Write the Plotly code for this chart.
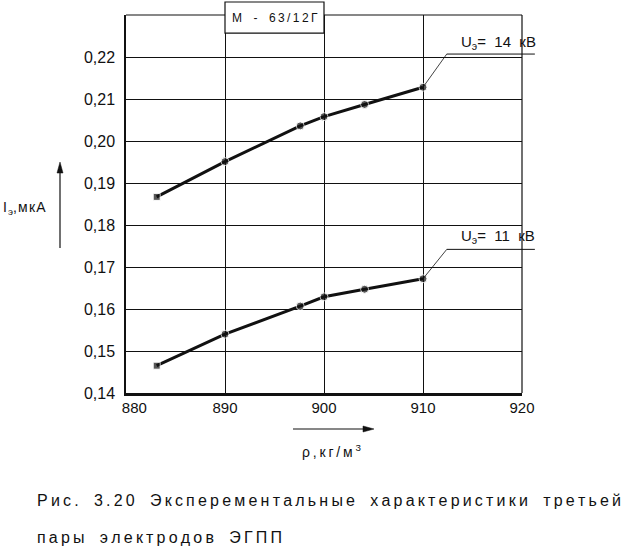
import plotly.graph_objects as go

# ---- data ----
rho_14 = [883.1, 890.0, 897.6, 900.0, 904.1, 910.0]
i_14 = [0.1867, 0.1951, 0.2036, 0.2058, 0.2087, 0.2128]
rho_11 = [883.1, 890.0, 897.6, 900.0, 904.1, 910.0]
i_11 = [0.1465, 0.1540, 0.1607, 0.1629, 0.1647, 0.1672]
x_ticks = [880, 890, 900, 910, 920]
x_ticktext = ["880", "890", "900", "910", "920"]
y_ticks = [0.14, 0.15, 0.16, 0.17, 0.18, 0.19, 0.20, 0.21, 0.22]
y_ticktext = ["0,14", "0,15", "0,16", "0,17", "0,18", "0,19", "0,20", "0,21", "0,22"]
label_14 = "U<sub>э</sub>= 14 кВ"
label_11 = "U<sub>э</sub>= 11 кВ"
box_text = "М - 63/12Г"
y_title = "I<sub>э</sub>,мкА"
x_title = "ρ,кг/м<sup>3</sup>"
caption1 = "Рис. 3.20 Эксперементальные характеристики третьей"
caption2 = "пары электродов ЭГПП"

X0, X1 = 880, 920
Y0, Y1 = 0.14, 0.23

FONT = "Liberation Sans, Arial, sans-serif"
INK = "#111111"
THIN = "\u2009"
NB = "\u00a0"

# plot-area geometry in pixels (used only to place the decorative arrows)
W, H = 634, 551
ML, MR, MT, MB = 126, 112, 15, 158
PW, PH = W - ML - MR, H - MT - MB


def sp(s, gap=THIN, word=NB + NB):
    # letter-spaced text; tags like <sub>..</sub> are kept intact
    parts = []
    i = 0
    while i < len(s):
        if s[i] == "<":
            j = s.index(">", i)
            parts.append(s[i:j + 1])
            i = j + 1
        else:
            parts.append(s[i])
            i += 1
    res = ""
    for k, p in enumerate(parts):
        if p.startswith("<"):
            res += p
        else:
            res += (word if p == " " else p)
            if k + 1 < len(parts) and not parts[k + 1].startswith("</"):
                res += gap
    return res


def px(x):
    return (x - X0) / (X1 - X0)


def py(y):
    return (y - Y0) / (Y1 - Y0)


def ppx(pix):
    return (pix - ML) / PW


def ppy(pix):
    return (H - MB - pix) / PH


fig = go.Figure()

for xs, ys in [(rho_14, i_14), (rho_11, i_11)]:
    fig.add_trace(go.Scatter(
        x=xs, y=ys, mode="lines+markers",
        line=dict(color=INK, width=3),
        marker=dict(color=INK, size=[7] + [8] * (len(xs) - 1),
                    symbol=["square"] + ["circle"] * (len(xs) - 1)),
        showlegend=False, hoverinfo="skip", cliponaxis=False,
    ))

xtt = list(x_ticktext)
xtt[0] = NB * 4 + xtt[0]

fig.update_xaxes(
    range=[X0, X1], tickvals=x_ticks, ticktext=xtt,
    showgrid=True, gridcolor=INK, gridwidth=1.2,
    showline=True, linecolor=INK, linewidth=2.5,
    zeroline=False, ticks="", ticklabelstandoff=-1,
    tickfont=dict(family=FONT, size=15, color=INK),
)
fig.update_yaxes(
    range=[Y0, Y1], tickvals=y_ticks, ticktext=y_ticktext,
    showgrid=True, gridcolor=INK, gridwidth=1.2,
    showline=True, linecolor=INK, linewidth=1.5,
    zeroline=False, ticks="", ticklabelstandoff=6,
    tickfont=dict(family=FONT, size=16, color=INK),
)

shapes = []
# top border
shapes.append(dict(type="line", xref="paper", yref="paper", x0=0, x1=1, y0=1, y1=1,
                   line=dict(color=INK, width=1.2)))
# right border
shapes.append(dict(type="line", xref="paper", yref="paper", x0=1, x1=1, y0=0, y1=1,
                   line=dict(color=INK, width=1.2)))
# box with the oil grade label (sits on top of the top border)
shapes.append(dict(type="rect", xref="paper", yref="paper",
                   x0=px(890), x1=px(900), y0=py(0.2257), y1=py(0.2331),
                   line=dict(color=INK, width=1.2), fillcolor="white", layer="above"))
# leader lines
for xs, ys, ty in [(rho_14, i_14, 0.2207), (rho_11, i_11, 0.1742)]:
    shapes.append(dict(type="line", xref="paper", yref="paper",
                       x0=px(xs[-1]), y0=py(ys[-1]), x1=px(912.4), y1=py(ty),
                       line=dict(color=INK, width=0.8)))
    shapes.append(dict(type="line", xref="paper", yref="paper",
                       x0=px(912.4), y0=py(ty), x1=px(921.3), y1=py(ty),
                       line=dict(color=INK, width=1)))

# vertical arrow next to the y title
shapes.append(dict(type="line", xref="paper", yref="paper",
                   x0=ppx(60), x1=ppx(60), y0=ppy(248), y1=ppy(170),
                   line=dict(color=INK, width=1.2)))
shapes.append(dict(type="path", xref="paper", yref="paper",
                   path=f"M {ppx(60)} {ppy(162)} L {ppx(57)} {ppy(173)} L {ppx(63)} {ppy(173)} Z",
                   fillcolor=INK, line=dict(color=INK, width=0.5)))
# horizontal arrow above the x title
shapes.append(dict(type="line", xref="paper", yref="paper",
                   x0=ppx(293), x1=ppx(365), y0=ppy(429), y1=ppy(429),
                   line=dict(color=INK, width=1.2)))
shapes.append(dict(type="path", xref="paper", yref="paper",
                   path=f"M {ppx(374)} {ppy(429)} L {ppx(363)} {ppy(426)} L {ppx(363)} {ppy(432)} Z",
                   fillcolor=INK, line=dict(color=INK, width=0.5)))
fig.update_layout(shapes=shapes)

ann = []
ann.append(dict(text=sp(box_text), xref="paper", yref="paper", x=px(895), y=py(0.2294),
                xanchor="center", yanchor="middle", showarrow=False,
                font=dict(family=FONT, size=12, color=INK)))
for lab, ty in [(label_14, 0.2235), (label_11, 0.1772)]:
    ann.append(dict(text=lab.replace(" ", NB + NB), xref="paper", yref="paper",
                    x=px(913.65), y=py(ty), xanchor="left", yanchor="middle", showarrow=False,
                    font=dict(family=FONT, size=15, color=INK)))
# y axis title
ann.append(dict(text=sp(y_title, gap="\u200a"), xref="paper", yref="paper", x=-0.316, y=py(0.1840),
                xanchor="left", yanchor="middle", showarrow=False,
                font=dict(family=FONT, size=14, color=INK)))
# x axis title
ann.append(dict(text=sp(x_title), xref="paper", yref="paper", x=px(897.6), y=py(0.1262),
                xanchor="left", yanchor="middle", showarrow=False,
                font=dict(family=FONT, size=14, color=INK)))
# caption
ann.append(dict(text=sp(caption1, gap=THIN, word=NB + NB), xref="paper", yref="paper",
                x=-0.2298, y=py(0.1144), xanchor="left", yanchor="middle", showarrow=False,
                font=dict(family=FONT, size=16, color=INK)))
ann.append(dict(text=sp(caption2, gap=THIN, word=NB + NB), xref="paper", yref="paper",
                x=-0.2298, y=py(0.1057), xanchor="left", yanchor="middle", showarrow=False,
                font=dict(family=FONT, size=16, color=INK)))
fig.update_layout(annotations=ann)

fig.update_layout(
    width=W, height=H,
    margin=dict(l=ML, r=MR, t=MT, b=MB),
    plot_bgcolor="white", paper_bgcolor="white",
)

fig.write_html("out.html", config={"displayModeBar": False},
               post_script="document.body.style.margin='0px';")
